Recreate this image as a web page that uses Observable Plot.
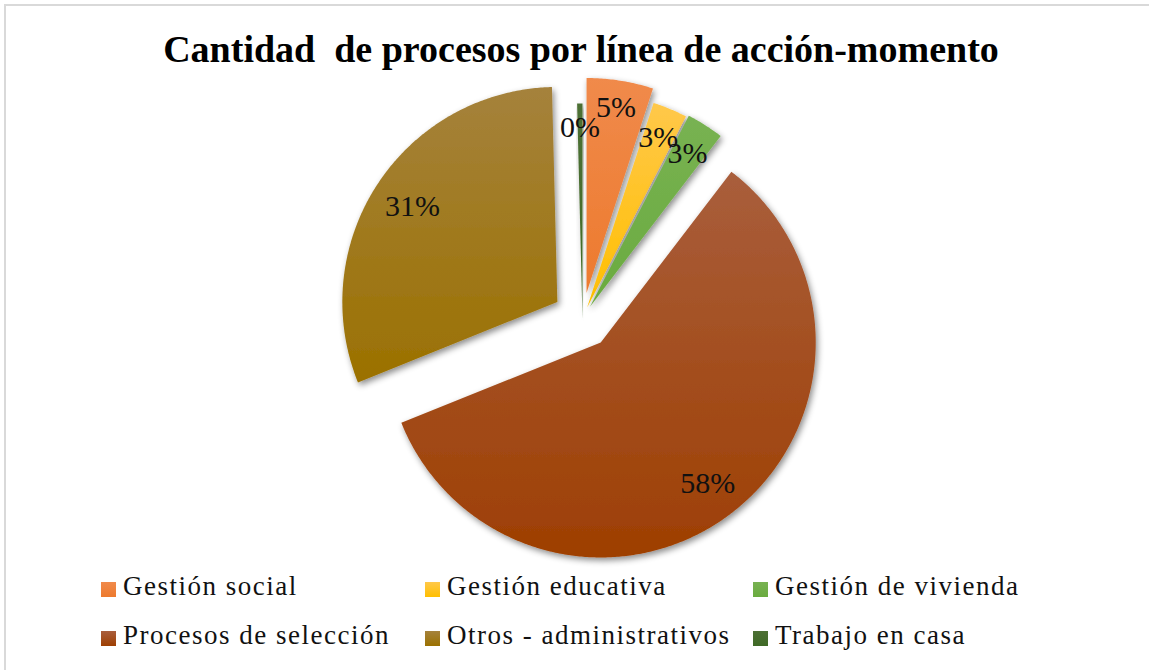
<!DOCTYPE html>
<html>
<head>
<meta charset="utf-8">
<script src="https://cdn.jsdelivr.net/npm/d3@7"></script>
<script src="https://cdn.jsdelivr.net/npm/@observablehq/plot@0.6"></script>
<style>
  body { margin: 0; background: #fff; }
  #frame { position: relative; width: 1149px; height: 670px; overflow: hidden; background: #fff;
           font-family: "Liberation Serif", "Times New Roman", serif; color: #000; }
  #border { position: absolute; left: 4px; top: 4px; width: 1170px; height: 690px;
            border: 2px solid #d9d9d9; box-sizing: border-box; }
  #title { position: absolute; left: 0; width: 1162px; top: 30px; text-align: center;
           font-weight: bold; font-size: 38px; line-height: 38px; white-space: pre; }
  #chart { position: absolute; left: 0; top: 70px; }
  .lg-sw { position: absolute; width: 15px; height: 15px; }
  .lg-tx { position: absolute; font-size: 27px; line-height: 27px; letter-spacing: 1.5px; white-space: pre; color: #111; }
</style>
</head>
<body>
<div id="frame">
  <div id="border"></div>
  <div id="title">Cantidad  de procesos por línea de acción-momento</div>
  <div id="chart"></div>
  <div id="legend"></div>
</div>
<script>
// ---- data ----
const categories = ["Gestión social", "Gestión educativa", "Gestión de vivienda",
                    "Procesos de selección", "Otros - administrativos", "Trabajo en casa"];
const shares = [5.0, 2.6, 2.8, 58.5, 30.7, 0.4];
const labels = ["5%", "3%", "3%", "58%", "31%", "0%"];

// ---- styles ----
const baseColors = ["#ed7a2e", "#ffbf00", "#6aab3f", "#9e3f02", "#9b7100", "#3f6a26"];
const topColors  = ["#f08a4b", "#ffc84a", "#78b252", "#a95e3c", "#a5823c", "#4d7035"];
const explode    = [0.12, 0.056, 0.065, 0.14, 0.14, 0];   // fraction of radius
const legendCols = [101, 425, 753];
const legendRows = [582, 631];

const R = 215, W = 1149, H = 500, CX = 582, CY = 248;
const labelFont = 30, labelPad = 12;

// ---- geometry from values (unit radius) ----
const arcs = d3.pie().sort(null).value(d => d)(shares);
const pts = [];
const labelPts = [];
arcs.forEach((a, i) => {
  const m = (a.startAngle + a.endAngle) / 2;
  const cx = explode[i] * Math.sin(m), cy = explode[i] * Math.cos(m);
  pts.push({cat: categories[i], x: cx, y: cy});
  const steps = Math.max(2, Math.ceil((a.endAngle - a.startAngle) / (Math.PI / 360)));
  for (let k = 0; k <= steps; k++) {
    const t = a.startAngle + (a.endAngle - a.startAngle) * k / steps;
    pts.push({cat: categories[i], x: cx + Math.sin(t), y: cy + Math.cos(t)});
  }
  // "inside end" placement: keep the label box inside the arc
  const hw = ((labels[i].length - 1) * 0.5 + 0.833) * labelFont / 2, hh = 12;
  const ext = Math.abs(Math.sin(m)) * hw + Math.abs(Math.cos(m)) * hh;
  const rl = (R - labelPad - ext) / R;
  labelPts.push({label: labels[i], x: cx + rl * Math.sin(m), y: cy + rl * Math.cos(m)});
});

const plot = Plot.plot({
  width: W, height: H, margin: 0,
  x: {domain: [-CX / R, (W - CX) / R], range: [0, W], axis: null},
  y: {domain: [-(H - CY) / R, CY / R], range: [H, 0], axis: null},
  marks: [
    ...categories.map((c, i) => Plot.line(pts.filter(d => d.cat === c), {
      x: "x", y: "y", curve: "linear-closed", fill: `url(#grad${i})`, stroke: "none"
    })),
    Plot.text(labelPts, {x: "x", y: "y", text: "label", fontSize: labelFont,
      fontFamily: "Liberation Serif, Times New Roman, serif", fill: "#111"})
  ]
});

// gradients + shadow
const ns = "http://www.w3.org/2000/svg";
const defs = document.createElementNS(ns, "defs");
baseColors.forEach((c, i) => {
  const g = document.createElementNS(ns, "linearGradient");
  g.setAttribute("id", `grad${i}`);
  g.setAttribute("x1", "0"); g.setAttribute("y1", "0");
  g.setAttribute("x2", "0"); g.setAttribute("y2", "1");
  [[0, topColors[i]], [1, c]].forEach(([o, col]) => {
    const s = document.createElementNS(ns, "stop");
    s.setAttribute("offset", o); s.setAttribute("stop-color", col);
    g.appendChild(s);
  });
  defs.appendChild(g);
});
const f = document.createElementNS(ns, "filter");
f.setAttribute("id", "shadow");
f.setAttribute("x", "-20%"); f.setAttribute("y", "-20%");
f.setAttribute("width", "140%"); f.setAttribute("height", "140%");
const ds = document.createElementNS(ns, "feDropShadow");
ds.setAttribute("dx", "2"); ds.setAttribute("dy", "3");
ds.setAttribute("stdDeviation", "3"); ds.setAttribute("flood-color", "#000");
ds.setAttribute("flood-opacity", "0.45");
f.appendChild(ds);
defs.appendChild(f);
plot.insertBefore(defs, plot.firstChild);
plot.querySelectorAll('g[aria-label="line"]').forEach(g => g.setAttribute("filter", "url(#shadow)"));
document.getElementById("chart").appendChild(plot);

// legend
const legend = document.getElementById("legend");
categories.forEach((c, i) => {
  const col = i % 3, row = Math.floor(i / 3);
  const sw = document.createElement("div");
  sw.className = "lg-sw";
  sw.style.left = legendCols[col] + "px";
  sw.style.top = legendRows[row] + "px";
  sw.style.background = `linear-gradient(${topColors[i]}, ${baseColors[i]})`;
  legend.appendChild(sw);
  const tx = document.createElement("div");
  tx.className = "lg-tx";
  tx.style.left = (legendCols[col] + 22) + "px";
  tx.style.top = (legendRows[row] - 9) + "px";
  tx.textContent = c;
  legend.appendChild(tx);
});
</script>
</body>
</html>
